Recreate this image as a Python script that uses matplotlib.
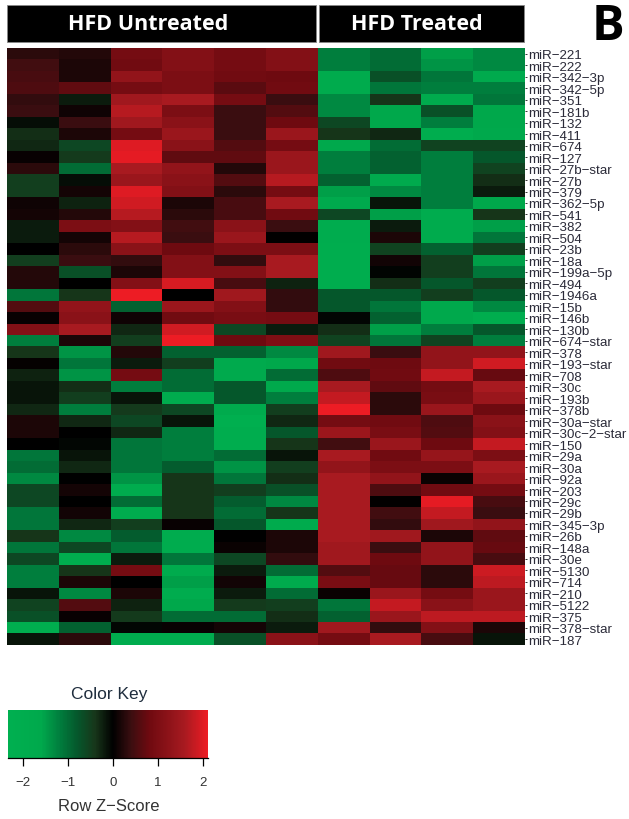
import numpy as np
import matplotlib
matplotlib.use("Agg")
import matplotlib.pyplot as plt
from matplotlib.colors import LinearSegmentedColormap, Normalize
from matplotlib.cm import ScalarMappable
from matplotlib.patches import Rectangle

W, H = 629, 820

mirnas = ["221","222","342-3p","342-5p","351","181b","132","411","674","127","27b-star","27b","379",
          "362-5p","541","382","504","23b","18a","199a-5p","494","1946a","15b","146b","130b","674-star",
          "378","193-star","708","30c","193b","378b","30a-star","30c-2-star","150","29a","30a","92a","203",
          "29c","29b","345-3p","26b","148a","30e","5130","714","210","5122","375","378-star","187"]

untreated_1 = [.3,.45,.5,.55,.35,.4,-.1,-.35,-.3,.05,.3,-.5,-.5,
               .1,.15,-.2,-.2,0,-.5,.25,.25,-1.1,.6,.05,1.1,-1.2,
               -.4,.03,-.25,-.15,-.15,-.3,.2,.2,0,-1.1,-1.0,-1.3,-.6,
               -.6,-1.1,-1.1,-.4,-1.1,-.6,-1.2,-1.2,-.15,-.55,-.7,-2.2,-.15]
untreated_2 = [.25,.2,.2,.7,-.2,.1,.4,.2,-.6,-.45,-1.0,-.1,.15,
               -.25,.25,1.0,.15,.3,.4,-.7,0,-.4,1.3,1.2,1.6,.2,
               -1.4,-1.1,-1.4,-.35,-.5,-1.2,-.3,0,-.05,-.15,-.3,0,.15,
               0,.12,-.3,-1.3,-.6,-2.1,-.4,.2,-1.3,.6,.05,-.9,.3]
untreated_3 = [.9,.85,1.3,.9,1.5,1.7,1.5,.9,2.0,2.05,1.6,1.4,2.0,
               1.9,1.7,1.1,1.7,1.2,.35,.2,1.1,2.1,-.9,.1,-.3,-.5,
               .25,-.2,.9,-1.2,-.15,-.45,-.6,-.3,-1.1,-1.1,-1.1,-1.4,-2.0,
               -1.0,-2.0,-.5,-.85,-1.1,-.2,.9,0,.2,-.25,-.45,-.05,-2.0]
untreated_4 = [1.1,1.1,1.0,1.0,1.6,1.0,1.2,1.4,1.2,.7,1.3,1.2,1.1,
               .2,.3,.45,.4,.8,1.1,1.1,1.95,0,1.4,.85,1.9,2.1,
               -.9,-.5,-1.0,-1.0,-2.0,-.6,-.15,-1.2,-1.2,-1.2,-.85,-.4,-.4,
               -.4,-.4,.05,-2.0,-2.0,-1.1,-1.9,-1.5,-2.0,-1.6,-1.0,.05,-2.0]
untreated_5 = [.9,.9,.85,.65,.9,.4,.4,.4,.6,.7,.25,.6,.3,
               .5,.5,1.2,1.4,1.0,.35,1.1,.5,1.5,1.1,.95,-.6,.8,
               -.9,-1.8,-1.8,-.8,-.8,-1.9,-2.3,-2.1,-2.1,-1.0,-1.4,-1.1,-.5,
               -.85,-1.0,-.8,0,.07,-.6,-.2,.12,-.2,-.45,-1.0,.15,-.7]
untreated_6 = [1.1,1.1,.8,.85,.4,.6,.8,1.4,.9,1.4,1.4,1.7,.9,
               1.6,.85,.4,.02,1.0,1.6,1.6,-.25,.35,.35,.9,-.2,1.05,
               -1.3,-1.6,-1.0,-1.7,-1.2,-.5,-.3,-.8,-.4,-.15,-.5,-.35,-.7,
               -1.3,-.4,-1.9,.2,.2,.35,-1.0,-1.9,-1.0,-.5,-.35,-.2,1.2]
treated_1 = [-1.2,-1.2,-1.9,-1.9,-1.3,-1.3,-.6,-.4,-1.7,-1.2,-1.2,-.9,-1.5,
             -1.8,-.6,-2.0,-2.0,-2.1,-2.1,-2.1,-2.1,-.8,-.8,-.05,-.35,-.55,
             1.5,.85,.55,1.6,1.8,2.15,.9,1.45,.45,1.6,1.3,1.6,1.6,
             1.6,1.6,1.6,1.6,1.5,1.5,.6,.95,.07,-1.1,-.9,1.5,.9]
treated_2 = [-1.0,-1.0,-.7,-1.1,-.4,-1.6,-1.6,-.3,-1.0,-.9,-.9,-1.8,-1.3,
             -.15,-1.5,-.2,.2,-.55,.12,-.03,-.35,-.8,-1.1,-.9,-1.5,-1.1,
             .4,.8,.85,.7,.3,.3,.85,.95,1.4,.85,1.0,1.3,.55,
             .02,.45,.35,1.5,.4,.8,.75,.75,1.4,1.8,1.4,.35,1.6]
treated_3 = [-1.5,-1.4,-1.1,-1.2,-1.9,-.7,-1.2,-2.1,-.55,-1.2,-1.2,-1.2,-1.2,
             -1.2,-2.0,-1.9,-1.9,-.9,-.5,-.5,-.8,-.5,-1.7,-1.7,-1.2,-.55,
             1.3,1.3,1.8,.9,.95,1.4,.55,.6,.8,1.35,1.0,.07,.85,
             2.05,1.8,1.5,.2,1.3,1.3,.3,.3,.9,1.2,1.75,1.1,.5]
treated_4 = [-1.3,-1.3,-1.8,-1.2,-1.1,-1.6,-1.6,-1.7,-.55,-.8,-.55,-.35,-.2,
             -1.6,-.4,-1.5,-1.1,-.5,-1.5,-1.1,-.5,-.8,-1.3,-2.1,-.8,-1.2,
             1.3,1.9,.75,1.6,1.4,.8,1.2,1.1,1.8,1.0,1.6,1.4,.9,
             .5,.4,1.3,.7,.75,.5,1.85,1.75,1.4,1.4,1.75,.2,-.15]

key_ticks = [-2, -1, 0, 1, 2]
vmin, vmax = -2.33, 2.11

columns = [untreated_1, untreated_2, untreated_3, untreated_4, untreated_5, untreated_6,
           treated_1, treated_2, treated_3, treated_4]
matrix = np.array(columns).T
row_labels = ["miR\u2212" + m.replace("-", "\u2212") for m in mirnas]


def rect(x0, y0, x1, y1):
    """pixel box (top-left origin) to figure-fraction [l, b, w, h]"""
    return [x0 / W, 1 - y1 / H, (x1 - x0) / W, (y1 - y0) / H]


def norm_pos(v):
    return (v - vmin) / (vmax - vmin)


stops = [(vmin, "#00B050"), (-1.6, "#00A94C"), (-1.2, "#007F3E"), (-0.8, "#05582C"), (-0.4, "#17361A"),
         (0.0, "#000000"), (0.4, "#3A0E10"), (0.8, "#6E0A10"), (1.2, "#8A1218"), (1.6, "#A81A20"),
         (2.11, "#ED1C24")]
cmap = LinearSegmentedColormap.from_list("gkr", [(norm_pos(v), c) for v, c in stops], N=256)
norm = Normalize(vmin, vmax)

plt.rcParams["font.family"] = ["Liberation Sans", "DejaVu Sans"]
fig = plt.figure(figsize=(W / 100, H / 100), dpi=100, facecolor="white")

# Heatmap
ax = fig.add_axes(rect(7, 49, 525, 646))
ax.imshow(matrix, cmap=cmap, norm=norm, aspect="auto", interpolation="nearest")
ax.set_yticks(np.arange(len(row_labels)))
ax.set_yticklabels(row_labels, fontsize=9.6, color="#2a2a38")
ax.yaxis.tick_right()
ax.tick_params(axis="y", length=1.5, width=0.7, pad=0.5, color="#333333")
ax.set_xticks([])
for s in ax.spines.values():
    s.set_visible(False)

# Group banners
for (x0, x1, cx, label) in [(7, 316, 148.5, "HFD Untreated"), (319, 524, 417, "HFD Treated")]:
    l, b, w, h = rect(x0, 6, x1, 43)
    fig.add_artist(Rectangle((l, b), w, h, transform=fig.transFigure,
                             facecolor="black", edgecolor="#888888", linewidth=0.6))
    fig.text(cx / W, 1 - 25 / H, label, color="white", fontsize=15.5, fontweight="bold",
             family=["Open Sans", "DejaVu Sans"], ha="center", va="center")

fig.text(608 / W, 1 - 28 / H, "B", fontsize=35, fontweight="bold", color="black",
         family=["Open Sans", "DejaVu Sans"], ha="center", va="center")

# Colour key
cax = fig.add_axes(rect(8, 711, 208, 759))
cb = fig.colorbar(ScalarMappable(norm=norm, cmap=cmap), cax=cax, orientation="horizontal", ticks=key_ticks)
cb.outline.set_visible(False)
cb.ax.spines["bottom"].set_visible(True)
cb.ax.spines["bottom"].set_linewidth(0.9)
cb.ax.set_xticklabels(["\u22122", "\u22121", "0", "1", "2"], fontsize=9.5, color="#333333")
cb.ax.tick_params(axis="x", length=6, width=0.9, pad=7)
fig.text(109 / W, 1 - 695 / H, "Color Key", fontsize=12.5, color="#1f2d3d", ha="center", va="center")
fig.text(109 / W, 1 - 807 / H, "Row Z\u2212Score", fontsize=12, color="#333333", ha="center", va="center")

fig.savefig("out.png", dpi=100, facecolor="white")
